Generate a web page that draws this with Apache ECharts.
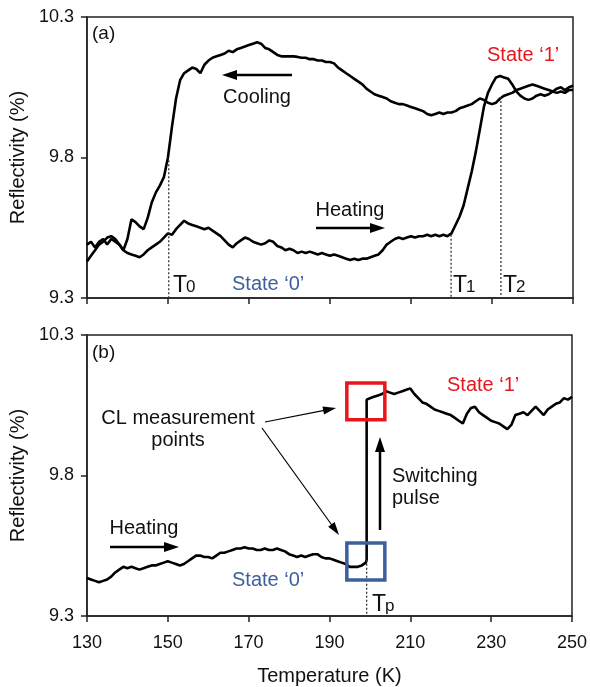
<!DOCTYPE html>
<html>
<head>
<meta charset="utf-8">
<script src="https://cdn.jsdelivr.net/npm/echarts@6/dist/echarts.min.js"></script>
<style>
  html, body { margin: 0; padding: 0; background: #fff; }
  #chart { width: 590px; height: 687px; }
</style>
</head>
<body>
<div id="chart"></div>
<script>
// temperatures (K), 1 K steps
const tempsA = []
for (let t = 130; t <= 250; t++) tempsA.push(t)

// panel (a) heating run
const heatA = [
  9.49, 9.50, 9.48, 9.50, 9.51, 9.49, 9.51, 9.50, 9.49, 9.47,
  9.46, 9.455, 9.45, 9.445, 9.455, 9.47, 9.48, 9.49, 9.50, 9.515,
  9.53, 9.525, 9.545, 9.56, 9.575, 9.565, 9.56, 9.555, 9.55, 9.545,
  9.55, 9.54, 9.53, 9.52, 9.505, 9.49, 9.48, 9.495, 9.505, 9.515,
  9.51, 9.50, 9.495, 9.49, 9.495, 9.505, 9.50, 9.485, 9.48, 9.47,
  9.475, 9.47, 9.46, 9.465, 9.46, 9.465, 9.46, 9.455, 9.46, 9.455,
  9.45, 9.455, 9.45, 9.445, 9.44, 9.435, 9.44, 9.435, 9.44, 9.44,
  9.445, 9.45, 9.455, 9.47, 9.49, 9.50, 9.51, 9.515, 9.51, 9.515,
  9.52, 9.515, 9.52, 9.52, 9.525, 9.52, 9.525, 9.52, 9.525, 9.52,
  9.53, 9.56, 9.59, 9.63, 9.69, 9.75, 9.82, 9.90, 9.98, 10.03,
  10.06, 10.085, 10.09, 10.085, 10.08, 10.06, 10.035, 10.02, 10.01, 10.005,
  10.01, 10.02, 10.025, 10.02, 10.025, 10.035, 10.03, 10.035, 10.03, 10.04,
  10.04
]

// panel (a) cooling run
const coolA = [
  9.43, 9.45, 9.47, 9.49, 9.50, 9.515, 9.52, 9.51, 9.49, 9.47,
  9.51, 9.58, 9.57, 9.555, 9.545, 9.585, 9.64, 9.675, 9.70, 9.73,
  9.80, 9.91, 10.01, 10.075, 10.10, 10.11, 10.12, 10.115, 10.10, 10.13,
  10.145, 10.155, 10.16, 10.165, 10.17, 10.18, 10.175, 10.185, 10.19, 10.195,
  10.20, 10.205, 10.21, 10.205, 10.19, 10.185, 10.175, 10.165, 10.16, 10.16,
  10.16, 10.16, 10.158, 10.155, 10.155, 10.15, 10.15, 10.145, 10.145, 10.14,
  10.14, 10.135, 10.12, 10.11, 10.10, 10.09, 10.08, 10.07, 10.06, 10.045,
  10.035, 10.025, 10.02, 10.015, 10.01, 10.0, 9.995, 9.99, 9.99, 9.985,
  9.98, 9.975, 9.97, 9.965, 9.955, 9.95, 9.955, 9.96, 9.955, 9.96,
  9.96, 9.965, 9.975, 9.98, 9.985, 9.99, 10.0, 10.01, 10.005, 9.995,
  9.99, 9.995, 10.01, 10.02, 10.025, 10.03, 10.04, 10.045, 10.05, 10.055,
  10.06, 10.055, 10.05, 10.045, 10.04, 10.035, 10.045, 10.05, 10.04, 10.05,
  10.055
]

// panel (b): heating with switching pulse at Tp
const tP = 199.2
const tempsB = []
for (let t = 130; t <= 199; t++) tempsB.push(t)
tempsB.push(tP, tP)
for (let t = 200; t <= 250; t++) tempsB.push(t)

const heatB = [
  9.435, 9.43, 9.425, 9.42, 9.425, 9.43, 9.44, 9.455, 9.465, 9.475,
  9.47, 9.475, 9.47, 9.465, 9.47, 9.475, 9.48, 9.48, 9.485, 9.49,
  9.495, 9.49, 9.485, 9.48, 9.485, 9.495, 9.505, 9.515, 9.515, 9.51,
  9.51, 9.505, 9.515, 9.525, 9.525, 9.53, 9.535, 9.54, 9.54, 9.545,
  9.54, 9.54, 9.535, 9.535, 9.54, 9.535, 9.535, 9.54, 9.535, 9.53,
  9.52, 9.515, 9.51, 9.515, 9.51, 9.515, 9.52, 9.52, 9.51, 9.505,
  9.505, 9.50, 9.495, 9.49, 9.485, 9.475, 9.475, 9.475, 9.48, 9.49,
  9.50, 10.07,
  10.075, 10.08, 10.085, 10.09, 10.10, 10.095, 10.09, 10.095, 10.10, 10.105,
  10.11, 10.09, 10.075, 10.06, 10.055, 10.045, 10.035, 10.03, 10.025, 10.02,
  10.015, 10.005, 9.995, 9.985, 10.02, 10.04, 10.045, 10.025, 10.015, 10.005,
  9.995, 9.99, 9.985, 9.975, 9.965, 9.98, 10.015, 10.02, 10.025, 10.015,
  10.03, 10.045, 10.03, 10.015, 10.035, 10.045, 10.055, 10.06, 10.075, 10.07,
  10.08
]

// marker temperatures
const T0 = 150.2, T1 = 219.9, T2 = 232.2

const FONT = 'Liberation Sans, Arial, sans-serif'
const INK = '#111'
const BLUE = '#3d5f9f'
const RED = '#e8151c'

const pairs = (xs, ys) => xs.map((x, i) => [x, ys[i]])

const chart = echarts.init(document.getElementById('chart'))

function xAxisOf(grid, showLabels) {
  return {
    type: 'value', gridIndex: grid, min: 130, max: 250, interval: 20,
    axisLine: { lineStyle: { color: '#222', width: 1.5 } },
    axisTick: { show: true, length: 6, lineStyle: { color: '#222', width: 1.5 } },
    splitLine: { show: false },
    axisLabel: { show: showLabels, color: INK, fontSize: 18, fontFamily: FONT, margin: 18 },
    name: showLabels ? 'Temperature (K)' : '',
    nameLocation: 'middle', nameGap: 50,
    nameTextStyle: { color: INK, fontSize: 20, fontFamily: FONT }
  }
}
function yAxisOf(grid) {
  return {
    type: 'value', gridIndex: grid, min: 9.3, max: 10.3, interval: 0.5,
    axisLine: { show: true, lineStyle: { color: '#222', width: 1.5 } },
    axisTick: { show: true, length: 6, lineStyle: { color: '#222', width: 1.5 } },
    splitLine: { show: false },
    axisLabel: { color: INK, fontSize: 18, fontFamily: FONT, margin: 13, formatter: v => v.toFixed(1) },
    name: 'Reflectivity (%)', nameLocation: 'middle', nameRotate: 90, nameGap: 52,
    nameTextStyle: { color: INK, fontSize: 20, fontFamily: FONT }
  }
}
function curve(name, grid, data) {
  return {
    name, type: 'line', xAxisIndex: grid, yAxisIndex: grid, data,
    showSymbol: false, symbol: 'none', animation: false,
    lineStyle: { color: '#000', width: 2.6 }
  }
}

chart.setOption({
  backgroundColor: '#fff',
  animation: false,
  grid: [
    { left: 86, top: 17, width: 487, height: 281, show: true, borderColor: '#222', borderWidth: 1.5 },
    { left: 86, top: 335, width: 487, height: 281, show: true, borderColor: '#222', borderWidth: 1.5 }
  ],
  xAxis: [xAxisOf(0, false), xAxisOf(1, true)],
  yAxis: [yAxisOf(0), yAxisOf(1)],
  series: [
    curve('heating a', 0, pairs(tempsA, heatA)),
    curve('cooling a', 0, pairs(tempsA, coolA)),
    curve('heating b', 1, pairs(tempsB, heatB))
  ]
})

// ---- annotations ----
const px = (g, t, r) => chart.convertToPixel({ gridIndex: g }, [t, r])

function text(x, y, str, opts) {
  return {
    type: 'text', x, y, z: 10,
    style: Object.assign({
      text: str, fill: INK, fontSize: 20, fontFamily: FONT,
      align: 'left', verticalAlign: 'middle'
    }, opts || {})
  }
}
function arrow(p1, p2, w, hl, hw) {
  const dx = p2[0] - p1[0], dy = p2[1] - p1[1]
  const len = Math.hypot(dx, dy), ux = dx / len, uy = dy / len
  const bx = p2[0] - ux * hl, by = p2[1] - uy * hl
  return [
    { type: 'line', z: 10, shape: { x1: p1[0], y1: p1[1], x2: bx + ux, y2: by + uy }, style: { stroke: '#000', lineWidth: w } },
    { type: 'polygon', z: 10, shape: { points: [[p2[0], p2[1]], [bx - uy * hw / 2, by + ux * hw / 2], [bx + uy * hw / 2, by - ux * hw / 2]] }, style: { fill: '#000' } }
  ]
}
function dotted(g, t, r0) {
  const a = px(g, t, r0), b = px(g, t, 9.3)
  return { type: 'line', z: 5, shape: { x1: a[0], y1: a[1], x2: b[0], y2: b[1] }, style: { stroke: '#333', lineWidth: 1.3, lineDash: [2, 2] } }
}
function box(g, t0, t1, r0, r1, color) {
  const a = px(g, t0, r1), b = px(g, t1, r0)
  return { type: 'rect', z: 9, shape: { x: a[0], y: a[1], width: b[0] - a[0], height: b[1] - a[1] }, style: { fill: 'none', stroke: color, lineWidth: 3.5 } }
}
function tLabel(x, yBottom, sub) {
  return [
    text(x, yBottom, 'T', { fontSize: 23, verticalAlign: 'bottom' }),
    text(x + 13, yBottom - 1, sub, { fontSize: 17, verticalAlign: 'bottom' })
  ]
}

const g = []
// panel (a)
g.push(text(92, 34, '(a)', { fontSize: 19 }))
g.push(text(257, 97, 'Cooling', { align: 'center' }))
g.push(...arrow([292, 75], [222, 75], 2.5, 15, 10))
g.push(text(350, 210, 'Heating', { align: 'center' }))
g.push(...arrow([316, 228], [385, 228], 2.5, 15, 10))
g.push(text(232, 284, 'State \u20180\u2019', { fill: BLUE }))
g.push(text(487, 55, 'State \u20181\u2019', { fill: RED }))
g.push(dotted(0, T0, 9.79), dotted(0, T1, 9.525), dotted(0, T2, 10.015))
g.push(...tLabel(173, 297, '0'), ...tLabel(453, 297, '1'), ...tLabel(503, 297, '2'))

// panel (b)
g.push(text(92, 353, '(b)', { fontSize: 19 }))
g.push(text(178, 429, 'CL measurement\npoints', { align: 'center', lineHeight: 22 }))
g.push(...arrow([265, 422], [336, 408], 1.2, 13, 8))
g.push(...arrow([262, 428], [339, 535], 1.2, 13, 8))
g.push(text(144, 528, 'Heating', { align: 'center' }))
g.push(...arrow([110, 547], [179, 547], 2.5, 15, 10))
g.push(text(392, 487, 'Switching\npulse', { lineHeight: 22 }))
g.push(...arrow([380, 530], [380, 437], 2.5, 15, 10))
g.push(text(447, 385, 'State \u20181\u2019', { fill: RED }))
g.push(text(232, 580, 'State \u20180\u2019', { fill: BLUE }))
g.push(dotted(1, tP, 9.50))
g.push(box(1, 194.3, 203.7, 9.998, 10.129, RED))
g.push(box(1, 194.3, 203.7, 9.428, 9.56, BLUE))
g.push(...tLabel(372, 616, 'p'))

chart.setOption({ graphic: g })
</script>
</body>
</html>
